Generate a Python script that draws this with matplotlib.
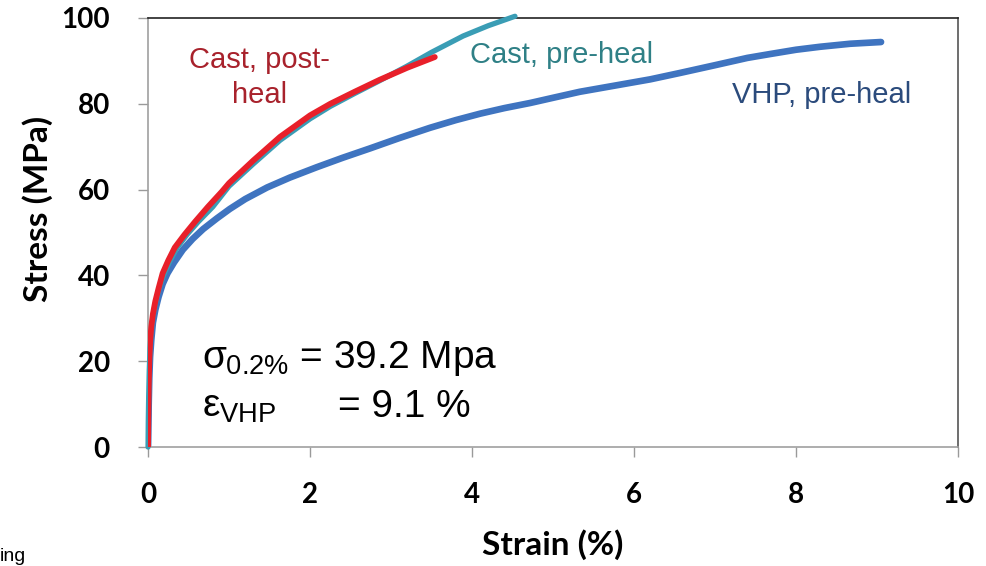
import numpy as np
import matplotlib
matplotlib.use('Agg')
import matplotlib.pyplot as plt

# Stress-strain curves (strain %, stress MPa)
vhp_strain = [0, 0.003, 0.008, 0.015, 0.025, 0.04, 0.06, 0.09, 0.13, 0.18, 0.24, 0.32,
              0.43, 0.55, 0.68, 0.85, 1.01, 1.2, 1.47, 1.75, 2.08, 2.4, 2.74, 3.1,
              3.48, 3.8, 4.1, 4.4, 4.72, 5.0, 5.33, 5.75, 6.2, 6.57, 7.0, 7.4,
              7.68, 8.0, 8.3, 8.67, 9.05]
vhp_stress = [0, 4, 10, 16, 21, 25, 29, 32, 35, 38, 40.5, 43,
              46, 48.5, 50.8, 53.3, 55.5, 57.8, 60.5, 62.8, 65.2, 67.4, 69.6, 72,
              74.4, 76.2, 77.7, 79, 80.2, 81.4, 82.8, 84.2, 85.7, 87.2, 89, 90.7,
              91.6, 92.6, 93.3, 94.0, 94.4]

pre_strain = [0, 0.003, 0.008, 0.015, 0.025, 0.04, 0.06, 0.09, 0.13, 0.19, 0.26, 0.36,
              0.48, 0.62, 0.8, 1.0, 1.3, 1.63, 2.0, 2.25, 2.55, 2.86, 3.2, 3.5,
              3.89, 4.2, 4.53]
pre_stress = [0, 6, 12, 18, 23, 27, 30.5, 33.5, 36.5, 40, 43, 46.5,
              49.5, 52.5, 56, 60.8, 66, 71.5, 76.5, 79.4, 82.4, 85.4, 88.8, 92,
              95.8, 98.2, 100.4]

post_strain = [0, 0.003, 0.008, 0.015, 0.025, 0.04, 0.06, 0.09, 0.13, 0.18, 0.25, 0.33,
               0.45, 0.58, 0.74, 0.91, 1.0, 1.3, 1.63, 2.0, 2.25, 2.55, 2.86, 3.2,
               3.54]
post_stress = [0, 7, 14, 20, 24.5, 28, 31, 34, 37, 40.5, 43.5, 46.5,
               49.5, 52.5, 56, 59.5, 61.5, 66.8, 72.3, 77.3, 80.0, 82.8, 85.6, 88.4,
               90.9]

x_ticks = [0, 2, 4, 6, 8, 10]
y_ticks = [0, 20, 40, 60, 80, 100]

plt.rcParams['font.family'] = ['Lato', 'DejaVu Sans']
plt.rcParams['mathtext.fontset'] = 'custom'
plt.rcParams['mathtext.rm'] = 'Liberation Sans'
plt.rcParams['mathtext.it'] = 'Liberation Sans'
plt.rcParams['mathtext.bf'] = 'Liberation Sans:bold'

fig = plt.figure(figsize=(9.87, 5.66), dpi=100)
ax = fig.add_axes([0.150, 0.2102, 0.8206, 0.758])

blue = '#3f74c0'
teal = '#3a9db5'
red = '#e8202a'

ax.plot(vhp_strain, vhp_stress, color=blue, lw=4.8, solid_capstyle='round', zorder=2)
ax.plot(pre_strain, pre_stress, color=teal, lw=3.8, solid_capstyle='round', zorder=3, clip_on=False)
ax.plot(post_strain, post_stress, color=red, lw=4.2, solid_capstyle='round', zorder=4)

ax.set_xlim(0, 10)
ax.set_ylim(0, 100)
ax.set_xticks(x_ticks)
ax.set_yticks(y_ticks)
ax.tick_params(axis='both', direction='out', length=7.5, width=1, color='#9a9a9a',
               labelsize=20, pad=18)
ax.tick_params(axis='y', pad=20)
for lbl in ax.get_xticklabels() + ax.get_yticklabels():
    lbl.set_fontweight('bold')

ax.spines['left'].set_color('#a0a0a0')
ax.spines['bottom'].set_color('#a0a0a0')
ax.spines['top'].set_color('#222222')
ax.spines['right'].set_color('#555555')
for s in ax.spines.values():
    s.set_linewidth(1.2)

ax.set_xlabel('Strain (%)', fontsize=24, fontweight='bold', va='center')
ax.xaxis.set_label_coords(0.5, -0.228)
ax.set_ylabel('Stress (MPa)', fontsize=24, fontweight='bold', va='center')
ax.yaxis.set_label_coords(-0.136, 0.555)

# curve labels
lab_font = 'Liberation Sans'
ax.text(1.38, 88.3, 'Cast, post-', color='#a8222c', fontsize=21, family=lab_font,
        ha='center', va='baseline')
ax.text(1.38, 80.2, 'heal', color='#a8222c', fontsize=21, family=lab_font,
        ha='center', va='baseline')
ax.text(3.975, 89.5, 'Cast, pre-heal', color='#2f8086', fontsize=21, family=lab_font,
        ha='left', va='baseline')
ax.text(7.21, 80.2, 'VHP, pre-heal', color='#2b4b7c', fontsize=21, family=lab_font,
        ha='left', va='baseline')

# yield strength / elongation annotation
ax.text(0.667, 18.4, r'$\sigma_{0.2\%}$ = 39.2 Mpa', fontsize=28, family=lab_font,
        ha='left', va='baseline')
ax.text(0.667, 7.0, r'$\varepsilon_{\mathrm{VHP}}$', fontsize=28, family=lab_font,
        ha='left', va='baseline')
ax.text(2.35, 7.0, '= 9.1 %', fontsize=28, family=lab_font, ha='left', va='baseline')

# caption fragment at bottom left (cut off in the source image)
fig.text(0.0, 0.002, 'ing', fontsize=14, ha='left', va='bottom', family=lab_font)

fig.savefig('out.png', dpi=100)
